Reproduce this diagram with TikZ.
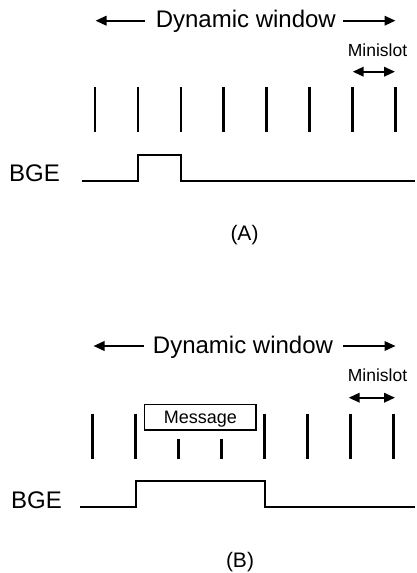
\documentclass[tikz,border=0pt]{standalone}
\usepackage{fontspec}
\setmainfont{Liberation Sans}
\usetikzlibrary{arrows.meta}
\begin{document}
\begin{tikzpicture}[x=1pt,y=-1pt,
  bigtext/.style={font=\fontsize{24}{28}\selectfont, inner sep=0pt},
  captext/.style={font=\fontsize{21}{25}\selectfont, inner sep=0pt},
  smalltext/.style={font=\fontsize{17.5}{21}\selectfont, inner sep=0pt},
  slotmark/.style={line width=2.8pt},
  wave/.style={line width=2pt},
  dimarrow/.style={line width=2pt, -{Triangle[length=11pt,width=9.5pt]}},
  dimboth/.style={line width=2pt, {Triangle[length=11pt,width=9.5pt]}-{Triangle[length=11pt,width=9.5pt]}},
  msgbox/.style={draw, line width=1.3pt, inner sep=0pt, minimum width=111.5pt,
    minimum height=25.5pt, text height=12.9pt, text depth=0pt,
    font=\fontsize{18}{21}\selectfont},
]
\useasboundingbox (0,0) rectangle (416,573);

% ---------------- Case (A) ----------------
\node[bigtext, anchor=base] (dwA) at (245.8,27.7) {Dynamic window};
\coordinate (dwAl1) at (145,20.7);
\coordinate (dwAl2) at (95.5,20.7);
\coordinate (dwAr1) at (343.3,20.7);
\coordinate (dwAr2) at (395.5,20.7);
\draw[dimarrow] (dwAl1) -- (dwAl2);
\draw[dimarrow] (dwAr1) -- (dwAr2);

\node[smalltext, anchor=base] (msA) at (377.5,56.5) {Minislot};
\coordinate (msAl) at (352.7,71.7);
\coordinate (msAr) at (395,71.7);
\draw[dimboth] (msAl) -- (msAr);

% minislot boundaries
\foreach \i in {0,...,7}
  \draw[slotmark] (95+42.95*\i,87.3) -- (95+42.95*\i,132.3);

\node[bigtext, anchor=base west] (bgeA) at (8.9,181) {BGE};
\draw[wave] (81.7,181) -- (138.3,181) -- (138.3,155) -- (181,155)
  -- (181,181) -- (415,181);

\node[captext, anchor=base] (capA) at (244.5,240.7) {(A)};

% ---------------- Case (B) ----------------
\node[bigtext, anchor=base] (dwB) at (243,353.8) {Dynamic window};
\coordinate (dwBl1) at (144,346);
\coordinate (dwBl2) at (93.5,346);
\coordinate (dwBr1) at (343.3,346);
\coordinate (dwBr2) at (395.5,346);
\draw[dimarrow] (dwBl1) -- (dwBl2);
\draw[dimarrow] (dwBr1) -- (dwBr2);

\node[smalltext, anchor=base] (msB) at (377.5,381.2) {Minislot};
\coordinate (msBl) at (348.7,397.7);
\coordinate (msBr) at (395,397.7);
\draw[dimboth] (msBl) -- (msBr);

% minislot boundaries, two of them shortened under the message
\foreach \i in {0,1,4,5,6,7}
  \draw[slotmark] (92.7+43*\i,413.5) -- (92.7+43*\i,458.8);
\foreach \i in {2,3}
  \draw[slotmark] (92.7+43*\i,439.3) -- (92.7+43*\i,458.8);

\node[msgbox] (msg) at (200.3,417.3) {Message};

\node[bigtext, anchor=base west] (bgeB) at (10.9,508) {BGE};
\draw[wave] (80,506.5) -- (136,506.5) -- (136,481.3) -- (264.8,481.3)
  -- (264.8,506.5) -- (415,506.5);

\node[captext, anchor=base] (capB) at (240,567.8) {(B)};
\end{tikzpicture}
\end{document}
